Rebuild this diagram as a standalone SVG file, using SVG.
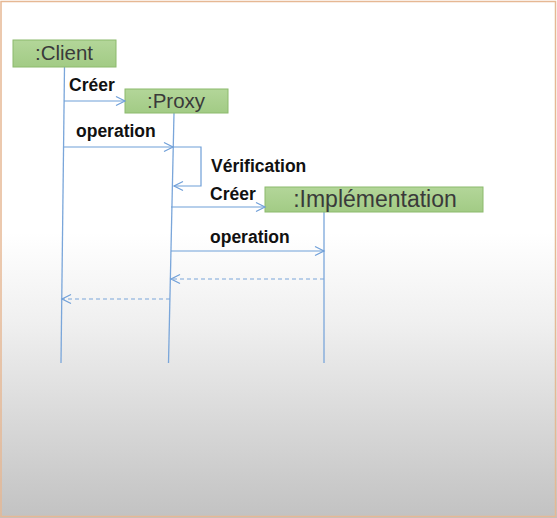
<svg xmlns="http://www.w3.org/2000/svg" width="557" height="518" viewBox="0 0 557 518">
<defs>
<linearGradient id="bg" x1="0" y1="0" x2="0" y2="1">
<stop offset="0" stop-color="#ffffff"/>
<stop offset="0.45" stop-color="#ffffff"/>
<stop offset="0.62" stop-color="#f0f0f0"/>
<stop offset="1" stop-color="#c2c2c2"/>
</linearGradient>
<linearGradient id="box" x1="0" y1="0" x2="0" y2="1">
<stop offset="0" stop-color="#b3d699"/>
<stop offset="1" stop-color="#a2cb85"/>
</linearGradient>
<marker id="arr" markerWidth="12" markerHeight="12" refX="10" refY="6" orient="auto" markerUnits="userSpaceOnUse">
<path d="M1,1.5 L10,6 L1,10.5" fill="none" stroke="#6f9fd8" stroke-width="1.2"/>
</marker>
</defs>
<style>
.box{fill:url(#box);stroke:#8cba6c;stroke-width:1}
.name{font-family:"Liberation Sans",Arial,sans-serif;font-size:20.5px;fill:#3a3a3a;text-anchor:middle}
.big{font-size:23px}
.lbl{font-family:"Liberation Sans",Arial,sans-serif;font-size:17.5px;font-weight:bold;fill:#111}
.life{stroke:#7aa6da;stroke-width:1.3;fill:none}
.msg{stroke:#6f9fd8;stroke-width:1.2;fill:none;marker-end:url(#arr)}
.ret{stroke:#7aa6da;stroke-width:1.2;fill:none;stroke-dasharray:4,3;marker-end:url(#arr)}
</style>
<rect x="0" y="0" width="557" height="518" fill="url(#bg)"/>
<rect x="1" y="1.5" width="554.5" height="515" fill="none" stroke="#e6b894" stroke-width="1.5"/>

<g id="lifelines">
<line class="life" x1="64.5" y1="67" x2="61" y2="363"/>
<line class="life" x1="174" y1="113" x2="168.5" y2="363"/>
<line class="life" x1="324" y1="212" x2="324" y2="363"/>
</g>

<g id="client">
<rect class="box" x="13" y="40" width="103" height="27"/>
<text class="name" x="64" y="60">:Client</text>
</g>
<g id="proxy">
<rect class="box" x="125" y="89" width="103" height="24"/>
<text class="name" x="176" y="108">:Proxy</text>
</g>
<g id="implementation">
<rect class="box" x="265" y="187" width="218" height="25"/>
<text class="name big" x="375" y="207">:Implémentation</text>
</g>

<g id="connectors">
<line class="msg" x1="64" y1="101" x2="125" y2="101"/>
<line class="msg" x1="64" y1="147" x2="173" y2="147"/>
<path class="msg" d="M173,147 H201 V186 H174"/>
<line class="msg" x1="171" y1="207" x2="265" y2="207"/>
<line class="msg" x1="171" y1="251" x2="324" y2="251"/>
<line class="ret" x1="324" y1="279" x2="171" y2="279"/>
<line class="ret" x1="170" y1="299" x2="62" y2="299"/>
</g>

<g id="labels">
<text class="lbl" x="69" y="91">Créer</text>
<text class="lbl" x="76" y="137">operation</text>
<text class="lbl" x="211" y="172">Vérification</text>
<text class="lbl" x="210" y="200">Créer</text>
<text class="lbl" x="210" y="243">operation</text>
</g>
</svg>
